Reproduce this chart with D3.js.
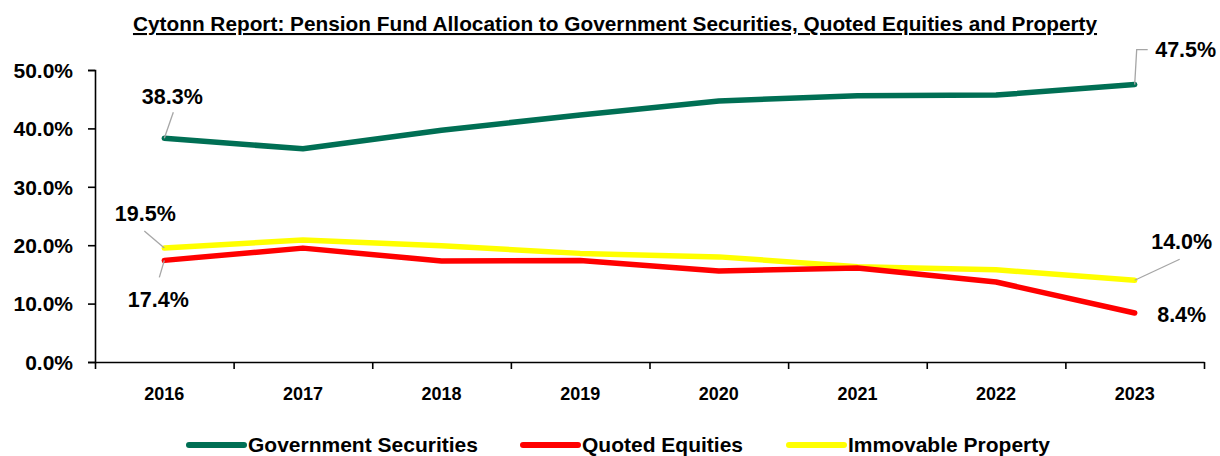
<!DOCTYPE html>
<html>
<head>
<meta charset="utf-8">
<script src="https://cdn.jsdelivr.net/npm/d3@7/dist/d3.min.js"></script>
<style>
  html, body { margin: 0; padding: 0; background: #fff; }
  svg { display: block; }
  text { font-family: "Liberation Sans Narrow", "Arial Narrow", "Liberation Sans", sans-serif; font-weight: bold; fill: #000; }
</style>
</head>
<body>
<svg id="chart" width="1220" height="456"></svg>
<script>
const title = "Cytonn Report: Pension Fund Allocation to Government Securities, Quoted Equities and Property";
const years = ["2016", "2017", "2018", "2019", "2020", "2021", "2022", "2023"];
const govSecurities = [0.383, 0.365, 0.397, 0.423, 0.447, 0.456, 0.457, 0.475];
const quotedEquities = [0.174, 0.195, 0.173, 0.174, 0.156, 0.161, 0.137, 0.084];
const immovableProperty = [0.195, 0.209, 0.199, 0.186, 0.180, 0.163, 0.158, 0.140];
const yTicks = [0, 0.1, 0.2, 0.3, 0.4, 0.5];
const seriesNames = ["Government Securities", "Quoted Equities", "Immovable Property"];
const seriesColors = ["#006F54", "#FF0000", "#FFFF00"];

const series = [govSecurities, quotedEquities, immovableProperty];

const svg = d3.select("#chart");
const x = d3.scaleBand().domain(years).range([95, 1204]);
const y = d3.scaleLinear().domain([0, 0.5]).range([362, 70]);
const fmt = d3.format(".1%");

// Title
svg.append("text")
  .attr("x", 615).attr("y", 31)
  .attr("text-anchor", "middle")
  .style("font-size", "20.8px")
  .style("text-decoration", "underline")
  .text(title);

// Y axis
const yAxis = svg.append("g")
  .attr("transform", "translate(95,0)")
  .call(d3.axisLeft(y).tickValues(yTicks).tickFormat(fmt).tickSize(7).tickPadding(15));
yAxis.selectAll("text").style("font-size", "21px").attr("dy", "0.35em");
yAxis.selectAll("line, path").attr("stroke", "#000").attr("stroke-width", 1.6);

// X axis: boundary ticks
const xb = d3.scaleLinear().domain([0, years.length]).range(x.range());
const xAxisTicks = svg.append("g")
  .attr("transform", "translate(0,362)")
  .call(d3.axisBottom(xb).tickValues(d3.range(years.length + 1)).tickFormat("").tickSize(7).tickSizeOuter(0));
xAxisTicks.selectAll("line, path").attr("stroke", "#000").attr("stroke-width", 1.6);

const xAxisLabels = svg.append("g")
  .attr("transform", "translate(0,362)")
  .call(d3.axisBottom(x).tickSize(0).tickPadding(25));
xAxisLabels.select(".domain").remove();
xAxisLabels.selectAll("text").style("font-size", "18px");

// Lines
const line = d3.line()
  .x((d, i) => x(years[i]) + x.bandwidth() / 2)
  .y(d => y(d));

[2, 1, 0].forEach(k => {
  svg.append("path")
    .datum(series[k])
    .attr("fill", "none")
    .attr("stroke", seriesColors[k])
    .attr("stroke-width", 5.5)
    .attr("stroke-linejoin", "round")
    .attr("stroke-linecap", "round")
    .attr("d", line);
});

// Data labels
const px = i => x(years[i]) + x.bandwidth() / 2;
const last = years.length - 1;
const labels = [
  { s: 0, i: 0, dx: 8, dy: -42, leader: [[9, -26], [0, 0]] },
  { s: 2, i: 0, dx: -19, dy: -35, leader: [[-20, -17], [0, 0]] },
  { s: 1, i: 0, dx: -6, dy: 39, leader: [[-5, 17], [0, 0]] },
  { s: 0, i: last, dx: 51, dy: -35, leader: [[0, 0], [2, -35], [13, -35]] },
  { s: 2, i: last, dx: 47, dy: -39, leader: [[0, 0], [45, -21]] },
  { s: 1, i: last, dx: 47, dy: 2, leader: null }
];
labels.forEach(l => {
  const cx = px(l.i), cy = y(series[l.s][l.i]);
  if (l.leader) {
    svg.append("path")
      .attr("d", d3.line()(l.leader.map(p => [cx + p[0], cy + p[1]])))
      .attr("fill", "none")
      .attr("stroke", "#A6A6A6")
      .attr("stroke-width", 1.3);
  }
  svg.append("text")
    .attr("x", cx + l.dx).attr("y", cy + l.dy)
    .attr("text-anchor", "middle")
    .attr("dy", "0.35em")
    .style("font-size", "21.5px")
    .text(fmt(series[l.s][l.i]));
});

// Legend
const legendItems = [
  { x: 189, textX: 248 },
  { x: 523, textX: 582 },
  { x: 789, textX: 848 }
];
const legend = svg.append("g");
legendItems.forEach((it, k) => {
  legend.append("line")
    .attr("x1", it.x).attr("x2", it.x + 55)
    .attr("y1", 445).attr("y2", 445)
    .attr("stroke", seriesColors[k])
    .attr("stroke-width", 6)
    .attr("stroke-linecap", "round");
  legend.append("text")
    .attr("x", it.textX).attr("y", 445)
    .attr("dy", "0.35em")
    .style("font-size", "21px")
    .text(seriesNames[k]);
});
</script>
</body>
</html>
